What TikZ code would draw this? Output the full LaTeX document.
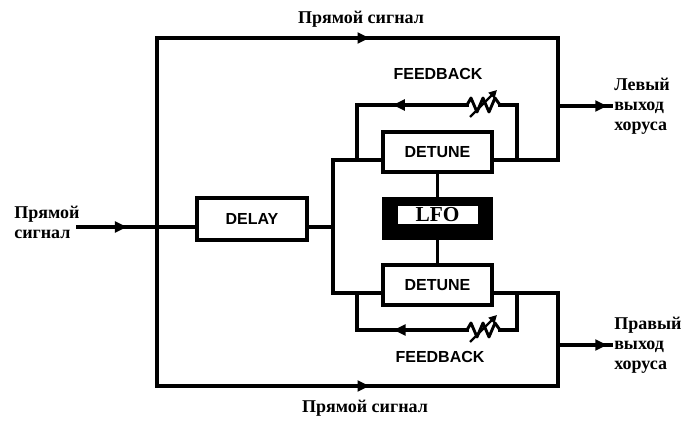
\documentclass[tikz,border=0pt]{standalone}
\usepackage{fontspec}
\setmainfont{Liberation Serif}
\newfontfamily\blocksans{Liberation Sans}
\usetikzlibrary{arrows.meta,decorations.markings}

\tikzset{
  sig/.style={line width=2.8pt,line cap=rect},
  blk/.style={draw,line width=3.2pt,minimum width=82pt,minimum height=30pt,inner sep=0pt,
    font=\blocksans\bfseries\fontsize{12}{12}\selectfont},
  rulab/.style={font=\bfseries\fontsize{13.5}{15}\selectfont,inner sep=0pt},
  fblab/.style={font=\blocksans\bfseries\fontsize{12}{12}\selectfont,inner sep=0pt},
  midarr/.style={postaction={decorate,decoration={markings,
    mark=at position #1 with {\arrow{Triangle[length=9pt,width=8pt]}}}}},
  varres/.pic={
    \draw[line width=2.2pt,line join=round] (-16,0)--(-12,-7)--(-6,7)--(0,-7)--(6,7)--(12,-7)--(17,0);
    \draw[line width=1.8pt,-{Triangle[length=6pt,width=6pt]}] (-13,12)--(14,-15);
  }
}

\begin{document}
\begin{tikzpicture}[x=0.75pt,y=-0.75pt]
\useasboundingbox (0,0) rectangle (690,421);
% blocks
\node[blk,minimum height=31.5pt] (delay) at (252,219) {DELAY};
\node[blk] (detA) at (437.5,152) {DETUNE};
\node[blk] (detB) at (437.5,285) {DETUNE};
\node[fill=black,minimum width=83pt,minimum height=32.5pt,inner sep=0pt] (lfo) at (437.5,218.5) {};
\node[fill=white,minimum width=60pt,minimum height=13.5pt,inner sep=0pt,
  font=\bfseries\fontsize{16}{16}\selectfont] (lfotxt) at (437.5,214.5) {LFO};
% points
\coordinate (in) at (78,227);\coordinate (jin) at (157,227);
\coordinate (tl) at (157,38);\coordinate (tr) at (558,38);
\coordinate (bl) at (157,386);\coordinate (br) at (558,386);
\coordinate (split) at (333,227);\coordinate (sA) at (333,160);\coordinate (sB) at (333,293);
\coordinate (oA) at (558,160);\coordinate (oB) at (558,293);
\coordinate (outA) at (611,106);\coordinate (outB) at (611,345);
\coordinate (fA1) at (517,160);\coordinate (fA2) at (517,105);\coordinate (fA3) at (357,105);\coordinate (fA4) at (357,160);
\coordinate (fB1) at (517,293);\coordinate (fB2) at (517,330);\coordinate (fB3) at (357,330);\coordinate (fB4) at (357,293);
\coordinate (rAw) at (467,105);\coordinate (rAe) at (500,105);
\coordinate (rBw) at (467,330);\coordinate (rBe) at (500,330);
% signal paths
\draw[sig,midarr=0.62] (in) -- (jin);
\draw[sig] (jin) -- (delay.west |- jin);
\draw[sig] (delay.east |- split) -- (split);
\draw[sig] (sA) -- (sB);
\draw[sig] (sA) -- (detA.west |- sA);
\draw[sig] (sB) -- (detB.west |- sB);
\draw[sig] (tl) -- (bl);
\draw[sig,midarr=0.53] (tl) -- (tr);
\draw[sig,midarr=0.53] (bl) -- (br);
\draw[sig] (detA.east |- oA) -- (oA) -- (tr);
\draw[sig] (detB.east |- oB) -- (oB) -- (br);
\draw[sig,midarr=0.93] (tr |- outA) -- (outA);
\draw[sig,midarr=0.93] (br |- outB) -- (outB);
\draw[sig] (detA) -- (lfo);
\draw[sig] (lfo) -- (detB);
% feedback loops
\draw[sig] (fA1) -- (fA2) -- (rAe);
\draw[sig,midarr=0.45] (rAw) -- (fA3) -- (fA4);
\pic at (483,105) {varres};
\draw[sig] (fB1) -- (fB2) -- (rBe);
\draw[sig,midarr=0.5] (rBw) -- (fB3) -- (fB4);
\pic at (483,330) {varres};
% labels
\node[rulab] (topl) at (361,19) {Прямой сигнал};
\node[rulab] (botl) at (365,408) {Прямой сигнал};
\node[rulab,anchor=west,align=left] (inl) at (14,222) {Прямой\\сигнал};
\node[rulab,anchor=west,align=left] (outAl) at (614,106) {Левый\\выход\\хоруса};
\node[rulab,anchor=west,align=left] (outBl) at (614,345) {Правый\\выход\\хоруса};
\node[fblab] (fbA) at (438,74) {FEEDBACK};
\node[fblab] (fbB) at (440,357) {FEEDBACK};
\end{tikzpicture}
\end{document}
